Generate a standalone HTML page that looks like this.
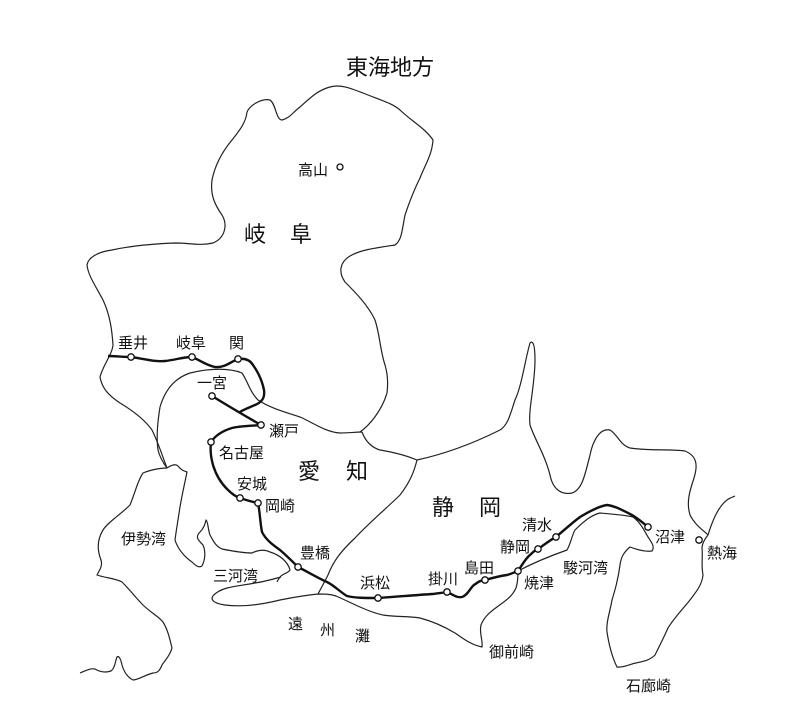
<!DOCTYPE html>
<html><head><meta charset="utf-8"><style>
html,body{margin:0;padding:0;background:#fff;}
svg{display:block;}
text{font-family:"Liberation Sans","Noto Sans CJK JP",sans-serif;fill:#111;}
.s{font-size:15px;}
.b{font-size:22px;}
</style></head><body>
<svg width="800" height="720" viewBox="0 0 800 720" xmlns="http://www.w3.org/2000/svg">
<g fill="none" stroke="#222" stroke-width="1.2" stroke-linejoin="round">
<path d="M247,112 C250,105 262,98 270,100 C276,104 276,120 282,120 C290,118 292,113 300,107 C310,98 318,90 330,87 C340,84 350,88 363,93 C380,100 392,103 400,110 C410,120 425,128 433,140 C432,155 425,165 420,178 C414,190 410,200 405,215 C402,230 402,240 395,245 C375,248 360,250 350,256 C340,262 338,272 345,282 C355,292 368,305 375,320 C380,335 380,350 385,365 C388,375 388,385 387,393 C382,410 370,425 360,432"/>
<path d="M247,112 C246,122 240,130 232,140 C222,152 215,165 212,180 C210,195 215,205 222,215 C228,225 225,238 213,243 C200,246 190,243 175,243 C150,244 130,246 112,250 C97,252 88,258 87,265 C88,275 95,285 103,300 C110,315 112,330 113,345 C112,355 103,365 100,377 C102,388 108,395 120,403 C135,412 145,420 152,430 C158,442 162,455 167,468"/>
<path d="M160,407 C165,390 175,378 190,373 C210,368 230,368 242,373 C248,382 250,392 258,400 C270,408 285,412 300,417 C312,422 325,432 340,433 C350,433 355,432 362,432"/>
<path d="M160,407 C158,420 156,435 158,450 C160,458 164,464 167,468"/>
<path d="M362,432 C365,440 370,447 380,450 C392,452 405,455 417,460"/>
<path d="M417,460 C440,455 470,445 500,430 C508,425 510,415 515,400 C522,385 525,360 530,343 C533,340 535,345 535,360 C535,385 528,410 530,425 C535,440 545,455 550,475 C553,490 562,495 572,493 C582,490 585,475 590,455 C593,440 600,428 610,430 C618,435 620,445 630,448 C650,451 670,449 685,451 C697,456 698,465 694,478 C690,490 686,502 690,515 C695,525 703,530 708,535"/>
<path d="M708,535 C712,522 716,512 722,505 C727,499 730,498 735,496"/>
<path d="M417,460 C414,472 410,482 400,495 C390,505 370,522 355,538 C340,552 333,562 328,575 C323,585 320,590 318,594"/>
<path d="M167,468 C170,466 175,463 178,466 C181,470 184,471 187,472 C185,482 182,495 180,507 C178,520 176,532 175,540 C178,550 186,558 192,562 C196,566 199,568 202,566"/>
<path d="M167,468 C160,468 150,470 143,473 C138,480 136,490 130,505 C120,515 108,522 103,530 C97,540 97,550 101,560 C103,566 99,571 97,575 C105,578 115,578 122,582 C130,590 136,598 143,605 C150,612 158,616 163,622 C168,630 170,640 172,648 C170,656 165,660 162,665 C160,670 158,673 153,673 C145,675 138,680 133,680 C127,677 124,672 122,665 C121,660 119,655 117,657 C115,662 115,668 111,671 C105,673 100,672 95,669 C90,668 85,671 80,673"/>
<path d="M202,566 C205,560 206,552 203,545 C198,540 195,537 200,532 C204,528 205,524 206,520 C208,521 208,530 210,535 C213,540 215,546 222,549 C232,551 245,553 252,553 C258,550 264,549 270,552 C280,555 288,562 290,570 C287,574 284,573 281,576 C279,578 278,580 277,582"/>
<path d="M281,577 C270,580 262,582 255,583 C245,585 235,586 227,588 C220,590 213,594 212,598 C212,602 218,604 225,605 C240,607 260,605 280,600 C295,597 308,595 318,594 C325,594 330,594 336,596 C350,602 368,612 383,615 C395,617 408,616 420,618 C435,622 445,627 455,633 C465,640 472,645 482,647 C483,640 479,633 481,625 C484,617 490,612 497,607 C505,601 512,597 516,588 C518,582 518,576 518,571"/>
<path d="M518,571 C535,562 550,556 567,550 C571,543 572,535 575,530 C585,520 592,515 600,513 C612,514 625,515 633,517 C640,522 644,530 648,537 C652,543 655,547 652,551 C645,552 638,550 630,547 C624,552 621,557 620,565 C618,580 615,590 612,600 C610,612 606,622 607,632 C609,645 612,657 617,667 C624,668 630,664 636,663 C645,661 650,660 655,655 C660,645 664,637 668,628 C674,618 682,610 690,600 C696,592 702,585 703,575 C701,565 703,556 702,548 C702,544 704,540 708,535"/>
</g>
<path fill="none" stroke="#111" stroke-width="2.4" stroke-linejoin="round" d="M108,356 C115,356 122,357 131,357 C145,359 155,362 165,361 C175,360 183,357 192,357 C200,360 205,365 215,367 C225,368 232,361 238,359 C245,358 250,360 253,365 C258,372 262,380 264,390 C265,398 262,402 255,405 C248,408 243,410 240,412 M212,396 C225,404 240,413 261,425 C250,426 240,426 232,428 C222,431 215,436 211,442 C210,450 211,458 213,465 C216,475 220,482 227,489 C232,494 236,497 240,498 C246,500 252,502 258,503 C260,512 260,522 262,532 C266,540 273,545 280,550 C287,556 293,562 298,567 C308,572 318,578 327,582 C335,586 340,592 347,596 C355,598 365,598 378,598 C395,597 415,595 433,594 C438,593 443,593 447,592 C452,594 456,598 462,597 C468,595 470,588 474,585 C478,582 481,580 485,580 C492,578 500,576 507,575 C511,574 515,572 518,571 C522,565 526,558 530,555 C533,552 535,550 538,549 C544,545 550,540 556,537 C563,531 572,523 580,517 C590,511 600,506 607,505 C615,506 622,510 630,514 C638,518 643,523 648,527"/>
<g fill="#fff" stroke="#111" stroke-width="1.3">
<circle cx="131" cy="357" r="3.2"/><circle cx="192" cy="357" r="3.2"/><circle cx="238" cy="359" r="3.2"/>
<circle cx="212" cy="396" r="3.2"/><circle cx="261" cy="425" r="3.2"/><circle cx="211" cy="442" r="3.2"/>
<circle cx="240" cy="498" r="3.2"/><circle cx="258" cy="503" r="3.2"/><circle cx="298" cy="567" r="3.2"/>
<circle cx="378" cy="598" r="3.2"/><circle cx="447" cy="592" r="3.2"/><circle cx="485" cy="580" r="3.2"/>
<circle cx="518" cy="571" r="3.2"/><circle cx="538" cy="549" r="3.2"/><circle cx="556" cy="537" r="3.2"/>
<circle cx="648" cy="527" r="3.2"/><circle cx="699" cy="540" r="3.2"/><circle cx="340" cy="167" r="3"/>
</g>
<text x="390" y="75" class="b" text-anchor="middle">東海地方</text>
<text x="298" y="175" class="s">高山</text>
<text x="244" y="242" class="b">岐</text><text x="290" y="242" class="b">阜</text>
<text x="298" y="479" class="b">愛</text><text x="346" y="479" class="b">知</text>
<text x="432" y="515" class="b">静</text><text x="479" y="515" class="b">岡</text>
<text x="118" y="348" class="s">垂井</text>
<text x="176" y="348" class="s">岐阜</text>
<text x="229" y="348" class="s">関</text>
<text x="197" y="388" class="s">一宮</text>
<text x="269" y="436" class="s">瀬戸</text>
<text x="219" y="458" class="s">名古屋</text>
<text x="237" y="489" class="s">安城</text>
<text x="265" y="511" class="s">岡崎</text>
<text x="300" y="558" class="s">豊橋</text>
<text x="360" y="588" class="s">浜松</text>
<text x="428" y="584" class="s">掛川</text>
<text x="464" y="573" class="s">島田</text>
<text x="524" y="588" class="s">焼津</text>
<text x="500" y="552" class="s">静岡</text>
<text x="522" y="530" class="s">清水</text>
<text x="563" y="573" class="s">駿河湾</text>
<text x="655" y="542" class="s">沼津</text>
<text x="707" y="558" class="s">熱海</text>
<text x="121" y="544" class="s">伊勢湾</text>
<text x="213" y="581" class="s">三河湾</text>
<text x="288" y="629" class="s">遠</text><text x="320" y="635" class="s">州</text><text x="355" y="641" class="s">灘</text>
<text x="489" y="657" class="s">御前崎</text>
<text x="626" y="691" class="s">石廊崎</text>
</svg>
</body></html>
